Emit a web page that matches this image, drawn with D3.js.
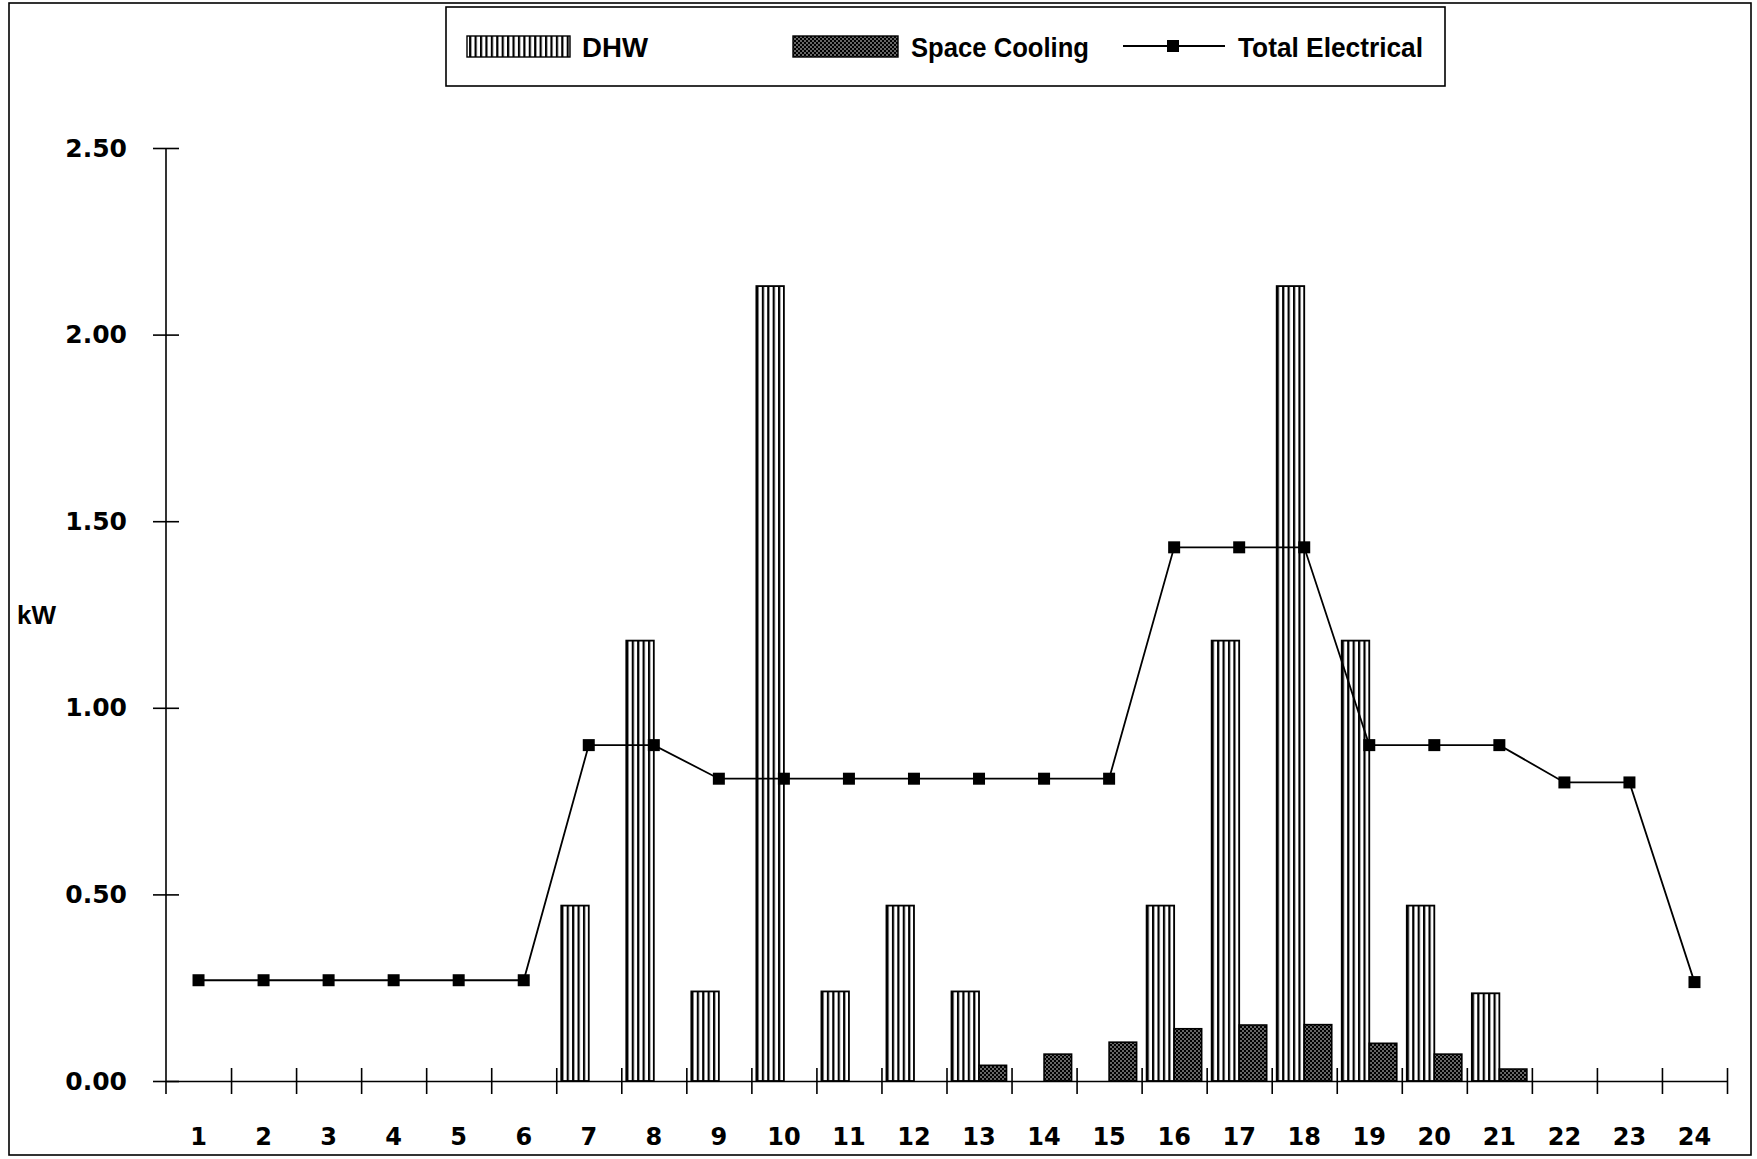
<!DOCTYPE html>
<html>
<head>
<meta charset="utf-8">
<script src="https://cdn.jsdelivr.net/npm/d3@7"></script>
<style>
  body { margin: 0; background: #fff; }
  svg { display: block; }
</style>
</head>
<body>
<svg id="chart" width="1757" height="1159"></svg>
<script>
// hours of the day
const hours = d3.range(1, 25);

// kW values
const dhw = [0, 0, 0, 0, 0, 0, 0.47, 1.18, 0.24, 2.13, 0.24, 0.47,
             0.24, 0, 0, 0.47, 1.18, 2.13, 1.18, 0.47, 0.235, 0, 0, 0];
const spaceCooling = [0, 0, 0, 0, 0, 0, 0, 0, 0, 0, 0, 0,
                      0.042, 0.072, 0.104, 0.14, 0.15, 0.151, 0.101, 0.072, 0.032, 0, 0, 0];
const totalElectrical = [0.27, 0.27, 0.27, 0.27, 0.27, 0.27, 0.90, 0.90, 0.81, 0.81, 0.81, 0.81,
                         0.81, 0.81, 0.81, 1.43, 1.43, 1.43, 0.90, 0.90, 0.90, 0.80, 0.80, 0.265];

const yTicks = [0, 0.5, 1.0, 1.5, 2.0, 2.5];
const legendNames = ['DHW', 'Space Cooling', 'Total Electrical'];

const svg = d3.select('#chart');

// plot area
const plotLeft = 166, plotRight = 1727, plotTop = 148, plotBottom = 1081;

const x = d3.scaleBand().domain(hours).range([plotLeft, plotRight]).padding(0);
const xEdge = d3.scaleLinear().domain([0, 24]).range([plotLeft, plotRight]);
const y = d3.scaleLinear().domain([0, 2.5]).range([plotBottom, plotTop]);

const bw = x.bandwidth();
const pad = 5;
const barW = (bw - 2 * pad) / 2;

// patterns
const defs = svg.append('defs');
const period = bw / 12;
const stripes = defs.append('pattern')
    .attr('id', 'stripes')
    .attr('patternUnits', 'userSpaceOnUse')
    .attr('x', plotLeft + pad)
    .attr('width', period)
    .attr('height', 10);
stripes.append('rect').attr('width', period).attr('height', 10).attr('fill', '#fff');
stripes.append('rect').attr('width', 2.2).attr('height', 10).attr('fill', '#000');

const dots = defs.append('pattern')
    .attr('id', 'dots')
    .attr('patternUnits', 'userSpaceOnUse')
    .attr('width', 4)
    .attr('height', 4);
dots.append('rect').attr('width', 4).attr('height', 4).attr('fill', '#000');
dots.append('circle').attr('cx', 1).attr('cy', 1).attr('r', 0.75).attr('fill', '#fff');
dots.append('circle').attr('cx', 3).attr('cy', 3).attr('r', 0.75).attr('fill', '#fff');

// outer frame
svg.append('rect')
    .attr('x', 9).attr('y', 3)
    .attr('width', 1742).attr('height', 1152)
    .attr('fill', 'none').attr('stroke', '#000').attr('stroke-width', 1.6);

// bars
svg.append('g').selectAll('rect')
    .data(hours.filter((h, i) => dhw[i] > 0))
    .enter().append('rect')
    .attr('x', h => x(h) + pad)
    .attr('y', h => y(dhw[h - 1]))
    .attr('width', barW)
    .attr('height', h => y(0) - y(dhw[h - 1]))
    .attr('fill', 'url(#stripes)')
    .attr('stroke', '#000')
    .attr('stroke-width', 1.8);

svg.append('g').selectAll('rect')
    .data(hours.filter((h, i) => spaceCooling[i] > 0))
    .enter().append('rect')
    .attr('x', h => x(h) + pad + barW)
    .attr('y', h => y(spaceCooling[h - 1]))
    .attr('width', barW)
    .attr('height', h => y(0) - y(spaceCooling[h - 1]))
    .attr('fill', 'url(#dots)')
    .attr('stroke', '#000')
    .attr('stroke-width', 1.6);

// y axis
const yAxis = svg.append('g')
    .attr('transform', 'translate(' + plotLeft + ',0)')
    .call(d3.axisLeft(y).tickValues(yTicks).tickFormat(d3.format('.2f'))
        .tickSizeInner(13).tickSizeOuter(0).tickPadding(26));
yAxis.select('.domain').remove();
yAxis.selectAll('.tick line').attr('x1', 13).attr('stroke-width', 1.6);
yAxis.selectAll('.tick text')
    .attr('font-family', 'DejaVu Sans, sans-serif')
    .attr('font-weight', 'bold')
    .attr('font-size', 25)
    .attr('fill', '#000');
svg.append('line')
    .attr('x1', plotLeft).attr('x2', plotLeft)
    .attr('y1', y(2.5)).attr('y2', y(0) + 13)
    .attr('stroke', '#000').attr('stroke-width', 1.6);

// x axis: boundary ticks
const xAxis = svg.append('g')
    .attr('transform', 'translate(0,' + plotBottom + ')')
    .call(d3.axisBottom(xEdge).tickValues(d3.range(1, 25)).tickFormat('')
        .tickSizeInner(13).tickSizeOuter(0));
xAxis.select('.domain').attr('stroke-width', 1.6);
xAxis.selectAll('.tick line').attr('y1', -13).attr('stroke-width', 1.6);

// x labels at the band centres
const xLabels = svg.append('g')
    .attr('transform', 'translate(0,' + plotBottom + ')')
    .call(d3.axisBottom(x).tickSize(0).tickPadding(0));
xLabels.select('.domain').remove();
xLabels.selectAll('.tick text')
    .attr('y', 64)
    .attr('dy', 0)
    .attr('font-family', 'DejaVu Sans, sans-serif')
    .attr('font-weight', 'bold')
    .attr('font-size', 24)
    .attr('fill', '#000');

// total electrical line
const line = d3.line()
    .x(h => x(h) + bw / 2)
    .y(h => y(totalElectrical[h - 1]));
svg.append('path')
    .datum(hours)
    .attr('d', line)
    .attr('fill', 'none')
    .attr('stroke', '#000')
    .attr('stroke-width', 1.8);
svg.append('g').selectAll('rect')
    .data(hours)
    .enter().append('rect')
    .attr('x', h => x(h) + bw / 2 - 6)
    .attr('y', h => y(totalElectrical[h - 1]) - 6)
    .attr('width', 12)
    .attr('height', 12)
    .attr('fill', '#000');

// axis title
svg.append('text')
    .attr('x', 17).attr('y', 624)
    .attr('font-family', 'Liberation Sans, Arial, sans-serif')
    .attr('font-weight', 'bold')
    .attr('font-size', 26)
    .text('kW');

// legend
const legend = svg.append('g');
legend.append('rect')
    .attr('x', 446).attr('y', 7)
    .attr('width', 999).attr('height', 79)
    .attr('fill', '#fff').attr('stroke', '#000').attr('stroke-width', 1.6);

const legendFont = (sel, w) => sel
    .attr('font-family', '"Liberation Sans Narrow", "Arial Narrow", "Liberation Sans", sans-serif')
    .attr('font-weight', 'bold')
    .attr('font-size', 27)
    .attr('textLength', w)
    .attr('lengthAdjust', 'spacingAndGlyphs');

legend.append('rect')
    .attr('x', 467).attr('y', 36).attr('width', 103).attr('height', 21)
    .attr('fill', 'url(#stripes)').attr('stroke', '#000').attr('stroke-width', 1.4);
legend.append('text').attr('x', 582).attr('y', 57).text(legendNames[0]).call(legendFont, 66);

legend.append('rect')
    .attr('x', 793).attr('y', 36).attr('width', 105).attr('height', 21)
    .attr('fill', 'url(#dots)').attr('stroke', '#000').attr('stroke-width', 1.4);
legend.append('text').attr('x', 911).attr('y', 57).text(legendNames[1]).call(legendFont, 178);

legend.append('line')
    .attr('x1', 1123).attr('x2', 1225).attr('y1', 46).attr('y2', 46)
    .attr('stroke', '#000').attr('stroke-width', 1.8);
legend.append('rect')
    .attr('x', 1167).attr('y', 40).attr('width', 12).attr('height', 12).attr('fill', '#000');
legend.append('text').attr('x', 1238).attr('y', 57).text(legendNames[2]).call(legendFont, 185);
</script>
</body>
</html>
